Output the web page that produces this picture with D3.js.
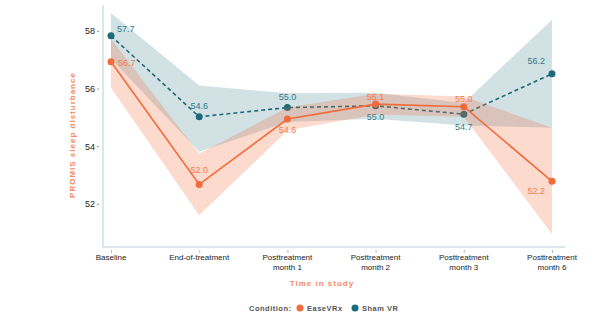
<!DOCTYPE html>
<html>
<head>
<meta charset="utf-8">
<script src="https://cdn.jsdelivr.net/npm/d3@7"></script>
<style>
  body { margin: 0; background: #fff; }
  text { font-family: "Liberation Sans", Arial, sans-serif; }
</style>
</head>
<body>
<svg id="chart" width="604" height="315"></svg>
<script>
// Data
const timepoints = ["Baseline", "End-of-treatment", "Posttreatment\nmonth 1", "Posttreatment\nmonth 2", "Posttreatment\nmonth 3", "Posttreatment\nmonth 6"];

const easeMean  = [56.93, 52.67, 54.94, 55.46, 55.37, 52.78];
const easeLower = [56.03, 51.60, 54.54, 55.10, 55.02, 50.95];
const easeUpper = [57.72, 53.74, 55.34, 55.82, 55.72, 54.64];
const easeLabels = ["56.7", "52.0", "54.6", "55.1", "55.0", "52.2"];

const shamMean  = [57.83, 55.02, 55.34, 55.40, 55.11, 56.51];
const shamLower = [57.03, 53.81, 54.84, 54.95, 54.72, 54.64];
const shamUpper = [58.62, 56.11, 55.84, 55.85, 55.50, 58.39];
const shamLabels = ["57.7", "54.6", "55.0", "55.0", "54.7", "56.2"];

const yTicks = [52, 54, 56, 58];

const svg = d3.select("#chart");

const x = d3.scalePoint().domain(timepoints).range([111, 552]);
const y = d3.scaleLinear().domain([50.5, 58.9]).range([247, 5]);

const orange = "#f26b3a";
const teal = "#1c6b7a";

// axis lines
svg.append("line").attr("x1", 103).attr("x2", 103).attr("y1", 5).attr("y2", 248)
  .attr("stroke", "#dde7ea").attr("stroke-width", 2);
svg.append("line").attr("x1", 102).attr("x2", 565).attr("y1", 247).attr("y2", 247)
  .attr("stroke", "#dde7ea").attr("stroke-width", 2);

// y axis
const yAxis = svg.append("g").attr("transform", "translate(99,0)")
  .call(d3.axisLeft(y).tickValues(yTicks).tickSize(2).tickPadding(2));
yAxis.select(".domain").remove();
yAxis.selectAll("line").attr("stroke", "#999");
yAxis.selectAll("text").attr("fill", "#222").style("font-size", "9px")
  .style("font-family", "Liberation Sans, Arial, sans-serif");

// x axis ticks and labels
const xAxis = svg.append("g").attr("transform", "translate(0,250)")
  .call(d3.axisBottom(x).tickSize(3).tickFormat(""));
xAxis.select(".domain").remove();
xAxis.selectAll("line").attr("stroke", "#bbb");

timepoints.forEach(t => {
  const lines = t.split("\n");
  const txt = svg.append("text")
    .attr("x", x(t)).attr("y", 260)
    .attr("text-anchor", "middle")
    .attr("fill", "#222")
    .style("font-size", "8px");
  lines.forEach((l, i) => {
    txt.append("tspan").attr("x", x(t)).attr("dy", i === 0 ? 0 : 10).text(l);
  });
});

// axis titles
svg.append("text")
  .attr("transform", "translate(75,135) rotate(-90)")
  .attr("text-anchor", "middle")
  .attr("fill", "#f58a62")
  .style("font-size", "8px").style("font-weight", "bold").style("letter-spacing", "1px")
  .text("PROMIS sleep disturbance");

svg.append("text")
  .attr("x", 322).attr("y", 286)
  .attr("text-anchor", "middle")
  .attr("fill", "#f58a62")
  .style("font-size", "8px").style("font-weight", "bold").style("letter-spacing", "1px")
  .text("Time in study");

function drawSeries(mean, lower, upper, labels, color, labelColor, dashed, labelPos) {
  const rows = timepoints.map((t, i) => ({ t, m: mean[i], lo: lower[i], hi: upper[i], lab: labels[i], pos: labelPos[i] }));
  const area = d3.area().x(d => x(d.t)).y0(d => y(d.lo)).y1(d => y(d.hi));
  svg.append("path").datum(rows).attr("d", area)
    .attr("fill", color).attr("fill-opacity", dashed ? 0.2 : 0.25);
  const line = d3.line().x(d => x(d.t)).y(d => y(d.m));
  svg.append("path").datum(rows).attr("d", line)
    .attr("fill", "none").attr("stroke", color).attr("stroke-width", 1.6)
    .attr("stroke-dasharray", dashed ? "4,3" : null);
  svg.selectAll(null).data(rows).enter().append("circle")
    .attr("cx", d => x(d.t)).attr("cy", d => y(d.m)).attr("r", 3.5)
    .attr("fill", color);
  svg.selectAll(null).data(rows).enter().append("text")
    .attr("x", d => x(d.t) + d.pos[0]).attr("y", d => y(d.m) + d.pos[1])
    .attr("text-anchor", d => d.pos[2])
    .attr("fill", labelColor)
    .style("font-size", "9px")
    .text(d => d.lab);
}

// sham first so the EaseVRx band sits on top
drawSeries(shamMean, shamLower, shamUpper, shamLabels, teal, "#2f7a8a", true,
  [[6, -4, "start"], [0, -8, "middle"], [0, -8, "middle"], [0, 14, "middle"], [0, 16, "middle"], [-7, -10, "end"]]);
drawSeries(easeMean, easeLower, easeUpper, easeLabels, orange, "#f47a4f", false,
  [[7, 4, "start"], [0, -11, "middle"], [0, 14, "middle"], [0, -4, "middle"], [0, -5, "middle"], [-7, 13, "end"]]);

// legend
const legend = svg.append("g").attr("transform", "translate(0,308)");
legend.append("text").attr("x", 249).attr("y", 3)
  .attr("fill", "#555").style("font-size", "7.5px").style("font-weight", "bold").style("letter-spacing", "0.5px")
  .text("Condition:");
const items = [["EaseVRx", orange, 300], ["Sham VR", teal, 355]];
items.forEach(([name, c, lx]) => {
  legend.append("circle").attr("cx", lx).attr("cy", 0).attr("r", 3.5).attr("fill", c);
  legend.append("text").attr("x", lx + 7).attr("y", 3)
    .attr("fill", "#555").style("font-size", "7.5px").style("font-weight", "bold").style("letter-spacing", "0.5px")
    .text(name);
});
</script>
</body>
</html>
